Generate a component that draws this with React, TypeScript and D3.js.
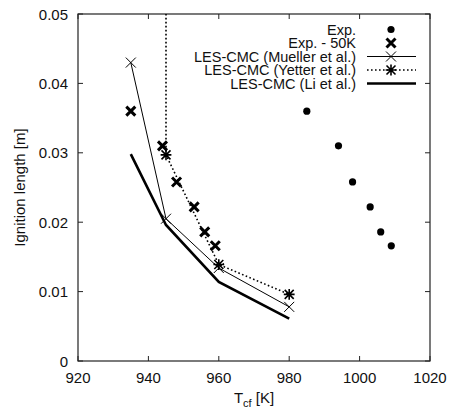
import React, { useEffect, useRef } from "react";
import * as d3 from "d3";

// experimental ignition lengths
const expT = [985, 994, 998, 1003, 1006, 1009];
const expL = [0.036, 0.031, 0.0258, 0.0222, 0.0186, 0.0166];
// experiment shifted by -50 K
const exp50T = [935, 944, 948, 953, 956, 959];
const exp50L = [0.036, 0.031, 0.0258, 0.0222, 0.0186, 0.0166];
// LES-CMC runs
const muellerT = [935, 945, 960, 980];
const muellerL = [0.043, 0.0205, 0.0134, 0.0078];
const yetterT = [945, 945, 960, 980];
const yetterL = [0.08, 0.0297, 0.0139, 0.0096];
const liT = [935, 945, 960, 980];
const liL = [0.0298, 0.0196, 0.0114, 0.0061];

const xTicks = [920, 940, 960, 980, 1000, 1020];
const yTicks = [0, 0.01, 0.02, 0.03, 0.04, 0.05];

const legendLabels = [
  "Exp.",
  "Exp. - 50K",
  "LES-CMC (Mueller et al.)",
  "LES-CMC (Yetter et al.)",
  "LES-CMC (Li et al.)",
];

const W = 452;
const H = 414;
const FONT = "Liberation Sans, Arial, sans-serif";

const App = () => {
  const ref = useRef<SVGSVGElement>(null);

  useEffect(() => {
    const svg = d3.select(ref.current);
    svg.selectAll("*").remove();

    const m = { left: 78, right: 22, top: 14, bottom: 53 };
    const x = d3.scaleLinear().domain([920, 1020]).range([m.left, W - m.right]);
    const y = d3.scaleLinear().domain([0, 0.05]).range([H - m.bottom, m.top]);

    svg.append("rect").attr("width", W).attr("height", H).attr("fill", "white");

    svg.append("defs").append("clipPath").attr("id", "plotclip")
      .append("rect")
      .attr("x", m.left).attr("y", m.top)
      .attr("width", W - m.left - m.right).attr("height", H - m.top - m.bottom);

    // ticks, mirrored on all sides, pointing inward
    const tl = 5;
    const axisCol = "#222";
    const tg = svg.append("g").attr("stroke", axisCol).attr("stroke-width", 1);
    xTicks.forEach(t => {
      tg.append("line").attr("x1", x(t)).attr("x2", x(t)).attr("y1", y(0)).attr("y2", y(0) - tl);
      tg.append("line").attr("x1", x(t)).attr("x2", x(t)).attr("y1", y(0.05)).attr("y2", y(0.05) + tl);
    });
    yTicks.forEach(t => {
      tg.append("line").attr("x1", x(920)).attr("x2", x(920) + tl).attr("y1", y(t)).attr("y2", y(t));
      tg.append("line").attr("x1", x(1020)).attr("x2", x(1020) - tl).attr("y1", y(t)).attr("y2", y(t));
    });

    svg.append("rect")
      .attr("x", m.left).attr("y", m.top)
      .attr("width", W - m.left - m.right).attr("height", H - m.top - m.bottom)
      .attr("fill", "none").attr("stroke", axisCol).attr("stroke-width", 1.2);

    const lab = svg.append("g").style("font-family", FONT).style("font-size", "15px").attr("fill", "#111");
    xTicks.forEach(t => {
      lab.append("text").attr("x", x(t)).attr("y", 383).attr("text-anchor", "middle").text(t);
    });
    yTicks.forEach(t => {
      lab.append("text").attr("x", 68).attr("y", y(t) + 5.5).attr("text-anchor", "end")
        .text(t === 0 ? "0" : d3.format(".2f")(t));
    });

    const xl = lab.append("text").attr("x", x(970)).attr("y", 403).attr("text-anchor", "middle");
    xl.append("tspan").text("T");
    xl.append("tspan").attr("dy", 4).style("font-size", "11px").text("cf");
    xl.append("tspan").attr("dy", -4).text(" [K]");

    lab.append("text")
      .attr("transform", `translate(25,${y(0.025)}) rotate(-90)`)
      .attr("text-anchor", "middle")
      .text("Ignition length [m]");

    const plot = svg.append("g").attr("clip-path", "url(#plotclip)");
    const line = (ts: number[], ls: number[]) =>
      d3.line<number>().x(i => x(ts[i])).y(i => y(ls[i]))(d3.range(ts.length));

    // marker drawers
    const cross = (g: any, cx: number, cy: number, s: number, w: number) => {
      g.append("path")
        .attr("d", `M${cx - s},${cy - s}L${cx + s},${cy + s}M${cx - s},${cy + s}L${cx + s},${cy - s}`)
        .attr("stroke", "black").attr("stroke-width", w).attr("fill", "none");
    };
    const star = (g: any, cx: number, cy: number, s: number) => {
      g.append("path")
        .attr("d", `M${cx - s},${cy - s}L${cx + s},${cy + s}M${cx - s},${cy + s}L${cx + s},${cy - s}M${cx},${cy - s * 1.2}L${cx},${cy + s * 1.2}M${cx - s * 1.2},${cy}L${cx + s * 1.2},${cy}`)
        .attr("stroke", "black").attr("stroke-width", 1.6).attr("fill", "none");
    };

    // Li
    plot.append("path").attr("d", line(liT, liL)).attr("fill", "none")
      .attr("stroke", "black").attr("stroke-width", 2.6);
    // Mueller
    plot.append("path").attr("d", line(muellerT, muellerL)).attr("fill", "none")
      .attr("stroke", "black").attr("stroke-width", 1);
    muellerT.forEach((t, i) => cross(plot, x(t), y(muellerL[i]), 5, 1));
    // Yetter
    plot.append("path").attr("d", line(yetterT, yetterL)).attr("fill", "none")
      .attr("stroke", "black").attr("stroke-width", 1.6).attr("stroke-dasharray", "1.6,2.4");
    yetterT.forEach((t, i) => star(plot, x(t), y(yetterL[i]), 4.5));
    // Exp - 50K
    exp50T.forEach((t, i) => cross(plot, x(t), y(exp50L[i]), 4.5, 3));
    // Exp
    expT.forEach((t, i) => {
      plot.append("circle").attr("cx", x(t)).attr("cy", y(expL[i])).attr("r", 3.6).attr("fill", "black");
    });

    // legend
    const lg = svg.append("g").style("font-family", FONT).style("font-size", "14.5px");
    legendLabels.forEach((name, i) => {
      const ly = 29.5 + i * 13.5;
      lg.append("text").attr("x", 356).attr("y", ly + 5).attr("text-anchor", "end").attr("fill", "#111").text(name);
      const lx0 = 367, lx1 = 416, lc = 391;
      if (i === 0) lg.append("circle").attr("cx", lc).attr("cy", ly).attr("r", 3.6).attr("fill", "black");
      if (i === 1) cross(lg, lc, ly, 4.5, 3);
      if (i === 2) {
        lg.append("line").attr("x1", lx0).attr("x2", lx1).attr("y1", ly).attr("y2", ly).attr("stroke", "black").attr("stroke-width", 1);
        cross(lg, lc, ly, 5, 1);
      }
      if (i === 3) {
        lg.append("line").attr("x1", lx0).attr("x2", lx1).attr("y1", ly).attr("y2", ly).attr("stroke", "black")
          .attr("stroke-width", 1.6).attr("stroke-dasharray", "1.6,2.4");
        star(lg, lc, ly, 4.5);
      }
      if (i === 4) {
        lg.append("line").attr("x1", lx0).attr("x2", lx1).attr("y1", ly).attr("y2", ly).attr("stroke", "black").attr("stroke-width", 2.6);
      }
    });
  }, []);

  return (
    <div style={{ position: "absolute", left: 0, top: 0 }}>
      <svg ref={ref} width={W} height={H} style={{ display: "block" }} />
    </div>
  );
};

export default App;
